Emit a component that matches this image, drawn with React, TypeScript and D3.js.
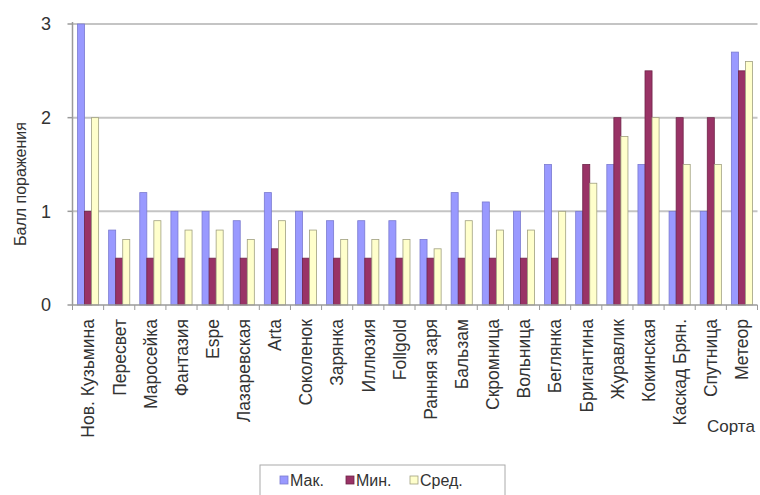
import React from "react";
import * as d3 from "d3";

// Cultivars (x categories)
const categories = [
  "Нов. Кузьмина", "Пересвет", "Маросейка", "Фантазия", "Espe", "Лазаревская",
  "Arta", "Соколенок", "Зарянка", "Иллюзия", "Follgold", "Ранняя заря",
  "Бальзам", "Скромница", "Вольница", "Беглянка", "Бригантина", "Журавлик",
  "Кокинская", "Каскад Брян.", "Спутница", "Метеор",
];

// Damage scores per cultivar
const maxValues = [3, 0.8, 1.2, 1.0, 1.0, 0.9, 1.2, 1.0, 0.9, 0.9, 0.9, 0.7, 1.2, 1.1, 1.0, 1.5, 1.0, 1.5, 1.5, 1.0, 1.0, 2.7];
const minValues = [1, 0.5, 0.5, 0.5, 0.5, 0.5, 0.6, 0.5, 0.5, 0.5, 0.5, 0.5, 0.5, 0.5, 0.5, 0.5, 1.5, 2.0, 2.5, 2.0, 2.0, 2.5];
const avgValues = [2, 0.7, 0.9, 0.8, 0.8, 0.7, 0.9, 0.8, 0.7, 0.7, 0.7, 0.6, 0.9, 0.8, 0.8, 1.0, 1.3, 1.8, 2.0, 1.5, 1.5, 2.6];

const seriesNames = ["Мак.", "Мин.", "Сред."];
const yTicks = [0, 1, 2, 3];

const colors = ["#9999ff", "#993366", "#ffffcc"];
const strokes = ["#7a7ad0", "#6e2448", "#a0a080"];

const W = 760;
const H = 495;
const left = 72.5;
const right = 757.5;
const top = 24;
const bottom = 305;
const font = "'Liberation Sans', Arial, sans-serif";

export default function App() {
  const series = [maxValues, minValues, avgValues];
  const x = d3.scaleBand<string>().domain(categories).range([left, right]).padding(0);
  const y = d3.scaleLinear().domain([0, 3]).range([bottom, top]);
  const bw = x.bandwidth();
  const groupPad = 5;
  const inner = d3
    .scaleBand<number>()
    .domain([0, 1, 2])
    .range([groupPad, bw - groupPad])
    .padding(0);

  return (
    <svg
      width={W}
      height={H}
      style={{ position: "absolute", left: 0, top: 0, background: "#fff" }}
      fontFamily={font}
    >
      {/* gridlines */}
      {yTicks.slice(1).map((t) => (
        <line key={t} x1={left} x2={right} y1={y(t)} y2={y(t)} stroke="#c4c4c4" strokeWidth={2} />
      ))}
      {/* y tick marks and labels */}
      {yTicks.map((t) => (
        <g key={t}>
          <line x1={left - 5} x2={left} y1={y(t)} y2={y(t)} stroke="#9a9a9a" strokeWidth={1.5} />
          <text x={51} y={y(t)} dy="0.36em" textAnchor="end" fontSize={18} fill="#333">
            {t}
          </text>
        </g>
      ))}
      {/* bars */}
      {categories.map((c, i) => (
        <g key={c} transform={`translate(${x(c)},0)`}>
          {series.map((s, k) => (
            <rect
              key={k}
              x={inner(k)!}
              y={y(s[i])}
              width={inner.bandwidth()}
              height={y(0) - y(s[i])}
              fill={colors[k]}
              stroke={strokes[k]}
              strokeWidth={0.8}
            />
          ))}
        </g>
      ))}
      {/* axes */}
      <line x1={left} x2={left} y1={top - 2} y2={bottom} stroke="#9a9a9a" strokeWidth={1.5} />
      <line x1={left} x2={right} y1={bottom} y2={bottom} stroke="#9a9a9a" strokeWidth={1.5} />
      {d3.range(categories.length + 1).map((j) => (
        <line
          key={j}
          x1={left + j * bw}
          x2={left + j * bw}
          y1={bottom}
          y2={bottom + 5}
          stroke="#9a9a9a"
          strokeWidth={1}
        />
      ))}
      {/* category labels */}
      {categories.map((c) => {
        const cx = x(c)! + bw / 2;
        return (
          <text
            key={c}
            transform={`translate(${cx},${bottom + 14}) rotate(-90)`}
            textAnchor="end"
            dy="0.36em"
            fontSize={17.5}
            fill="#333"
          >
            {c}
          </text>
        );
      })}
      {/* axis titles */}
      <text
        transform={`translate(20,184) rotate(-90)`}
        textAnchor="middle"
        dy="0.36em"
        fontSize={16}
        fill="#333"
      >
        Балл поражения
      </text>
      <text x={707} y={432} fontSize={17} fill="#333">
        Сорта
      </text>
      {/* legend */}
      <rect x={260} y={465} width={245} height={32} fill="#fff" stroke="#aaa" strokeWidth={1} />
      {seriesNames.map((n, k) => {
        const lx = [280, 346, 410][k];
        return (
          <g key={n}>
            <rect x={lx} y={476} width={8} height={8} fill={colors[k]} stroke={strokes[k]} strokeWidth={0.8} />
            <text x={lx + 10} y={480} dy="0.36em" fontSize={16} fill="#333">
              {n}
            </text>
          </g>
        );
      })}
    </svg>
  );
}
